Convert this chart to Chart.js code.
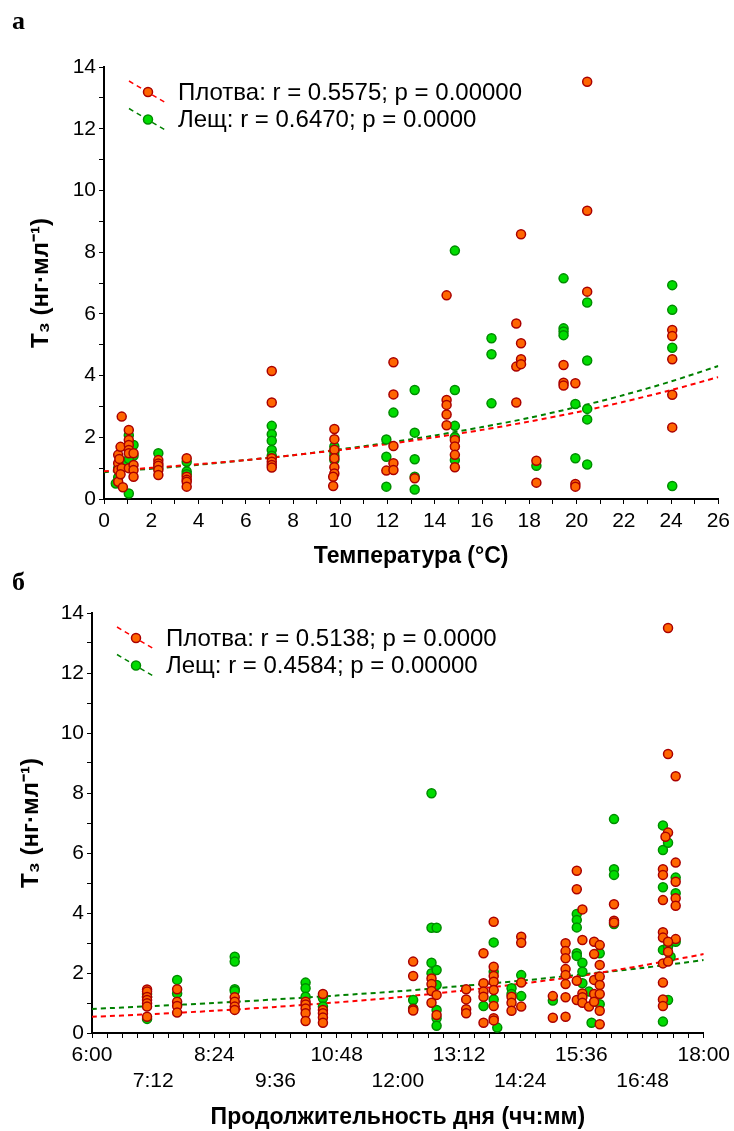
<!DOCTYPE html>
<html lang="ru">
<head>
<meta charset="utf-8">
<script src="https://cdn.jsdelivr.net/npm/chart.js@4.4.0/dist/chart.umd.min.js"></script>
<style>
    body { margin: 0; background: #fff; width: 734px; height: 1131px; position: relative; overflow: hidden; }
    .letra { position: absolute; left: 12px; z-index: 2; font: bold 26px "Liberation Serif", "Times New Roman", serif; line-height: 26px; }
    #temperatura { position: absolute; left: 0; top: 0; }
    #duracaoDia { position: absolute; left: 0; top: 580px; }
</style>
</head>
<body>
<div class="letra" style="top: 8px;">а</div>
<div class="letra" style="top: 569px;">б</div>
<canvas id="temperatura" width="734" height="580"></canvas>
<canvas id="duracaoDia" width="734" height="551"></canvas>

<script>
// ---- dados (a): T3 x temperatura (°C) ----
const roachTemp = [
    [0.6, 1.43], [0.6, 1.16], [0.6, 0.94], [0.6, 0.56], [0.65, 1.3], [0.7, 1.69], [0.75, 2.67], [0.8, 0.38],
    [0.75, 1.0], [0.7, 0.8], [1.05, 2.24], [1.05, 1.91], [1.05, 1.75], [1.05, 1.59], [1.05, 1.48], [1.05, 1.0],
    [1.25, 1.48], [1.25, 1.1], [1.25, 0.94], [1.25, 0.72],
    [2.3, 1.26], [2.3, 1.15], [2.3, 1.08], [2.3, 0.94], [2.3, 0.78],
    [3.5, 1.32], [3.5, 0.72], [3.5, 0.62], [3.5, 0.56], [3.5, 0.4],
    [7.1, 4.15], [7.1, 3.13], [7.1, 1.32], [7.1, 1.21], [7.1, 1.1], [7.1, 1.02],
    [9.75, 2.27], [9.75, 1.94], [9.75, 1.6], [9.75, 1.32], [9.75, 1.03], [9.75, 0.83], [9.7, 0.72], [9.7, 0.42],
    [11.95, 0.92],
    [12.25, 4.43], [12.25, 3.39], [12.25, 1.72], [12.25, 1.16], [12.25, 0.94],
    [13.15, 0.67],
    [14.5, 6.6], [14.5, 3.21], [14.5, 3.05], [14.5, 2.74], [14.5, 2.39],
    [14.85, 1.91], [14.85, 1.7], [14.85, 1.43], [14.85, 1.03],
    [17.45, 5.69], [17.45, 4.29], [17.45, 3.13],
    [17.65, 8.58], [17.65, 5.05], [17.65, 4.53], [17.65, 4.37],
    [18.3, 1.24], [18.3, 0.53],
    [19.45, 4.34], [19.45, 3.77], [19.45, 3.68],
    [19.95, 3.75], [19.95, 0.49], [19.95, 0.4],
    [20.45, 13.52], [20.45, 9.34], [20.45, 6.72],
    [24.05, 5.48], [24.05, 5.28], [24.05, 4.53], [24.05, 3.38], [24.05, 2.32]
];
const breamTemp = [
    [1.25, 1.75], [1.05, 2.07], [1.05, 0.18], [0.5, 0.5], [0.6, 0.7], [0.9, 1.2], [1.25, 1.4], [0.6, 1.0], [1.05, 1.3],
    [2.3, 1.48], [2.3, 1.0],
    [3.5, 1.21], [3.5, 0.89], [3.5, 0.8],
    [7.1, 2.37], [7.1, 2.1], [7.1, 1.89], [7.1, 1.59], [7.1, 1.4],
    [9.75, 1.7], [9.75, 1.53], [9.75, 1.26], [9.75, 1.4],
    [11.95, 1.93], [11.95, 1.37], [11.95, 0.4],
    [12.25, 2.8],
    [13.15, 3.53], [13.15, 2.15], [13.15, 1.29], [13.15, 0.72], [13.15, 0.31],
    [14.85, 8.05], [14.85, 3.53], [14.85, 2.37], [14.85, 1.26], [14.85, 2.0],
    [16.4, 5.21], [16.4, 4.69], [16.4, 3.1],
    [18.3, 1.08],
    [19.45, 7.15], [19.45, 5.53], [19.45, 5.43], [19.45, 5.31],
    [19.95, 3.08], [19.95, 1.32],
    [20.45, 6.37], [20.45, 4.49], [20.45, 2.92], [20.45, 2.58], [20.45, 1.12],
    [24.05, 6.93], [24.05, 6.13], [24.05, 4.9], [24.05, 0.42]
];
const trendTempX = [0, 2, 4, 6, 8, 10, 12, 14, 16, 18, 20, 22, 24, 26];
const trendTempRoach = [0.90, 1.01, 1.13, 1.26, 1.42, 1.59, 1.78, 2.00, 2.24, 2.51, 2.81, 3.15, 3.53, 3.95];
const trendTempBream = [0.87, 0.98, 1.11, 1.26, 1.42, 1.61, 1.82, 2.06, 2.33, 2.63, 2.98, 3.37, 3.81, 4.31];

// ---- dados (б): T3 x duração do dia (horas) ----
const roachDay = [
    [7.08, 1.45], [7.08, 1.38], [7.08, 1.2], [7.08, 1.1], [7.08, 0.99], [7.08, 0.88], [7.08, 0.54],
    [7.67, 1.46], [7.67, 1.04], [7.67, 0.9], [7.67, 0.68],
    [8.8, 1.19], [8.8, 1.04], [8.8, 0.88], [8.8, 0.77],
    [10.19, 1.04], [10.19, 0.95], [10.19, 0.82], [10.19, 0.66], [10.19, 0.4],
    [10.53, 1.3], [10.53, 0.77], [10.53, 0.66], [10.53, 0.52], [10.53, 0.34],
    [12.3, 2.38], [12.3, 1.9], [12.3, 0.79], [12.3, 0.75],
    [12.66, 1.82], [12.66, 1.63], [12.66, 1.4], [12.66, 1.01], [12.76, 1.27], [12.76, 0.6],
    [13.34, 1.46], [13.34, 1.12], [13.34, 0.79], [13.34, 0.66],
    [13.68, 2.66], [13.68, 1.66], [13.68, 1.38], [13.68, 1.21], [13.68, 0.34],
    [13.88, 3.71], [13.88, 2.21], [13.88, 1.9], [13.88, 1.71], [13.88, 1.43], [13.88, 0.9], [13.88, 0.49], [13.88, 0.42],
    [14.23, 1.21], [14.23, 1.01], [14.23, 0.74],
    [14.42, 3.21], [14.42, 3.01], [14.42, 1.68], [14.42, 0.88],
    [15.04, 1.23], [15.04, 0.51],
    [15.29, 2.99], [15.29, 2.73], [15.29, 2.49], [15.29, 2.13], [15.29, 1.93], [15.29, 1.63], [15.29, 1.19], [15.29, 0.54],
    [15.51, 5.41], [15.51, 4.79], [15.51, 1.74], [15.51, 1.1],
    [15.62, 4.12], [15.62, 3.1], [15.62, 1.32], [15.62, 1.19], [15.62, 1.01],
    [15.75, 0.88],
    [15.85, 3.04], [15.85, 2.63], [15.85, 1.77], [15.85, 1.3], [15.85, 1.04],
    [15.96, 2.93], [15.96, 2.27], [15.96, 1.88], [15.96, 1.6], [15.96, 1.3], [15.96, 0.74], [15.96, 0.29],
    [16.24, 4.29], [16.24, 3.74], [16.24, 3.68],
    [17.2, 5.46], [17.2, 5.27], [17.2, 4.43], [17.2, 3.36], [17.2, 3.18], [17.2, 2.32], [17.2, 1.68], [17.2, 1.12], [17.2, 0.9],
    [17.3, 13.5], [17.3, 9.3], [17.45, 8.56], [17.3, 6.68], [17.25, 6.54], [17.45, 5.68], [17.45, 5.04],
    [17.45, 4.49], [17.45, 4.24], [17.45, 3.13], [17.3, 3.04], [17.3, 2.71], [17.3, 2.38]
];
const breamDay = [
    [7.08, 1.3], [7.08, 1.2], [7.08, 0.47],
    [7.67, 1.77], [7.67, 1.32],
    [8.8, 2.54], [8.8, 2.38], [8.8, 1.46], [8.8, 1.4],
    [10.19, 1.68], [10.19, 1.49], [10.19, 1.21],
    [10.53, 1.16], [10.53, 0.88],
    [12.3, 1.1], [12.3, 0.82],
    [12.66, 7.99], [12.66, 3.51], [12.66, 2.34], [12.66, 1.99],
    [12.76, 3.51], [12.76, 2.1], [12.76, 1.6], [12.76, 0.77], [12.76, 0.49], [12.76, 0.24],
    [13.68, 0.9],
    [13.88, 3.02], [13.88, 2.04], [13.88, 1.12], [13.95, 0.18],
    [14.23, 1.49], [14.23, 1.3],
    [14.42, 1.93], [14.42, 1.23],
    [15.04, 1.08],
    [15.51, 3.97], [15.51, 3.77], [15.51, 3.52], [15.51, 2.66], [15.51, 2.57],
    [15.62, 2.34], [15.62, 2.04], [15.62, 1.66],
    [15.75, 1.38], [15.8, 0.34],
    [15.96, 2.66], [15.96, 0.96],
    [16.24, 7.13], [16.24, 5.46], [16.24, 5.27], [16.24, 3.63],
    [17.2, 6.92], [17.2, 6.1], [17.2, 4.86], [17.2, 2.77], [17.2, 0.38],
    [17.3, 6.34], [17.45, 5.18], [17.45, 4.66], [17.45, 3.04], [17.3, 2.88], [17.35, 2.54], [17.3, 1.1]
];
const trendDayX = [6, 7.2, 8.4, 9.6, 10.8, 12, 13.2, 14.4, 15.6, 16.8, 18];
const trendDayRoach = [0.54, 0.63, 0.74, 0.87, 1.02, 1.19, 1.40, 1.64, 1.91, 2.25, 2.63];
const trendDayBream = [0.80, 0.90, 1.00, 1.12, 1.25, 1.39, 1.56, 1.74, 1.95, 2.17, 2.43];

// cores
const fillRoach = 'rgb(255, 102, 0)';
const borderRoach = 'rgb(170, 0, 0)';
const fillBream = 'rgb(0, 220, 0)';
const borderBream = 'rgb(0, 140, 0)';
const lineRoach = 'rgb(255, 0, 0)';
const lineBream = 'rgb(0, 128, 0)';

const familia = '"Liberation Sans", Arial, sans-serif';
const fonteTick = { family: familia, size: 21, lineHeight: 1.25 };
const fonteTituloX = { family: familia, size: 23, weight: 'bold', lineHeight: 1.2 };
const fonteTituloY = { family: familia, size: 24, weight: 'bold', lineHeight: 1.2 };

// legenda desenhada dentro da área do gráfico (linha tracejada inclinada + marcador)
const legendaInterna = {
    id: 'legendaInterna',
    afterDatasetsDraw(chart, args, opts) {
        const ctx = chart.ctx;
        const area = chart.chartArea;
        ctx.save();
        opts.itens.forEach(function (item, i) {
            const mx = area.left + 44;
            const my = area.top + 25 + i * 27.5;
            ctx.strokeStyle = item.linha;
            ctx.lineWidth = 1.5;
            ctx.setLineDash([5, 4]);
            ctx.beginPath();
            ctx.moveTo(mx - 19, my - 11);
            ctx.lineTo(mx + 18, my + 11);
            ctx.stroke();
            ctx.setLineDash([]);
            ctx.beginPath();
            ctx.arc(mx, my, 4.5, 0, Math.PI * 2);
            ctx.fillStyle = item.cor;
            ctx.fill();
            ctx.strokeStyle = item.borda;
            ctx.stroke();
            ctx.fillStyle = '#000';
            ctx.font = '24px ' + familia;
            ctx.textBaseline = 'middle';
            ctx.textAlign = 'left';
            ctx.fillText(item.texto, area.left + 74, my + 1);
        });
        ctx.restore();
    }
};

function pontos(pares) {
    return pares.map(p => ({ x: p[0], y: p[1] }));
}

function curva(xs, ys) {
    return xs.map((x, i) => ({ x: x, y: ys[i] }));
}

function escalaY(tituloPad) {
    return {
        type: 'linear',
        min: 0,
        max: 14,
        border: { display: true, color: '#000', width: 2 },
        grid: { drawOnChartArea: false, drawTicks: true, tickLength: 5, tickColor: '#000', tickWidth: 1 },
        ticks: {
            stepSize: 1, autoSkip: false, color: '#000', padding: 3, font: fonteTick,
            callback: v => (v % 2 === 0 ? String(v) : '')
        },
        title: { display: true, text: 'T₃ (нг·мл⁻¹)', color: '#000', font: fonteTituloY, padding: { top: tituloPad, bottom: 0 } },
        afterFit: s => { s.width = 92; }
    };
}

function montarDatasets(roach, bream, tx, tRoach, tBream) {
    return [
        { label: 'Плотва', data: pontos(roach), backgroundColor: fillRoach, borderColor: borderRoach,
          pointRadius: 4.5, borderWidth: 1.5, order: 1 },
        { label: 'Лещ', data: pontos(bream), backgroundColor: fillBream, borderColor: borderBream,
          pointRadius: 4.5, borderWidth: 1.5, order: 2 },
        { type: 'line', data: curva(tx, tRoach), borderColor: lineRoach, borderWidth: 2,
          borderDash: [5, 4], pointRadius: 0, fill: false, tension: 0.3, order: 3 },
        { type: 'line', data: curva(tx, tBream), borderColor: lineBream, borderWidth: 2,
          borderDash: [5, 4], pointRadius: 0, fill: false, tension: 0.3, order: 4 }
    ];
}

function plotarTemperatura() {
    const config = {
        type: 'scatter',
        data: { datasets: montarDatasets(roachTemp, breamTemp, trendTempX, trendTempRoach, trendTempBream) },
        options: {
            responsive: false,
            animation: false,
            events: [],
            layout: { padding: { left: 12, top: 67, right: 12, bottom: 0 } },
            scales: {
                x: {
                    type: 'linear', min: 0, max: 26,
                    border: { display: true, color: '#000', width: 2 },
                    grid: { drawOnChartArea: false, drawTicks: true, tickLength: 5, tickColor: '#000', tickWidth: 1 },
                    ticks: {
                        stepSize: 1, autoSkip: false, maxRotation: 0, color: '#000', padding: 4, font: fonteTick,
                        callback: v => (v % 2 === 0 ? String(v) : '')
                    },
                    title: { display: true, text: 'Температура (°C)', color: '#000', font: fonteTituloX, padding: { top: 0, bottom: 10 } },
                    afterFit: s => { s.height = 81; }
                },
                y: escalaY(15)
            },
            plugins: {
                legend: { display: false },
                tooltip: { enabled: false },
                legendaInterna: {
                    itens: [
                        { texto: 'Плотва: r = 0.5575; p = 0.00000', cor: fillRoach, borda: borderRoach, linha: lineRoach },
                        { texto: 'Лещ: r = 0.6470; p = 0.0000', cor: fillBream, borda: borderBream, linha: lineBream }
                    ]
                }
            }
        },
        plugins: [legendaInterna]
    };
    new Chart(document.getElementById('temperatura'), config);
}

function rotuloHora(v) {
    const minutos = Math.round(v * 60);
    const passo = (minutos - 360) / 72;
    if (!Number.isInteger(passo)) return '';
    const texto = Math.floor(minutos / 60) + ':' + String(minutos % 60).padStart(2, '0');
    // rótulos alternados em duas linhas
    return passo % 2 === 0 ? texto : ['', texto];
}

function plotarDuracaoDia() {
    const config = {
        type: 'scatter',
        data: { datasets: montarDatasets(roachDay, breamDay, trendDayX, trendDayRoach, trendDayBream) },
        options: {
            responsive: false,
            animation: false,
            events: [],
            layout: { padding: { left: 0, top: 33, right: 26, bottom: 0 } },
            scales: {
                x: {
                    type: 'linear', min: 6, max: 18,
                    border: { display: true, color: '#000', width: 2 },
                    grid: { drawOnChartArea: false, drawTicks: true, tickLength: 5, tickColor: '#000', tickWidth: 1 },
                    ticks: {
                        stepSize: 0.3, autoSkip: false, maxRotation: 0, color: '#000', padding: 4, font: fonteTick,
                        callback: rotuloHora
                    },
                    title: { display: true, text: 'Продолжительность дня (чч:мм)', color: '#000', font: fonteTituloX, padding: { top: 0, bottom: 0 } },
                    afterFit: s => { s.height = 98; }
                },
                y: escalaY(17)
            },
            plugins: {
                legend: { display: false },
                tooltip: { enabled: false },
                legendaInterna: {
                    itens: [
                        { texto: 'Плотва: r = 0.5138; p = 0.0000', cor: fillRoach, borda: borderRoach, linha: lineRoach },
                        { texto: 'Лещ: r = 0.4584; p = 0.00000', cor: fillBream, borda: borderBream, linha: lineBream }
                    ]
                }
            }
        },
        plugins: [legendaInterna]
    };
    new Chart(document.getElementById('duracaoDia'), config);
}

plotarTemperatura();
plotarDuracaoDia();
</script>
</body>
</html>
